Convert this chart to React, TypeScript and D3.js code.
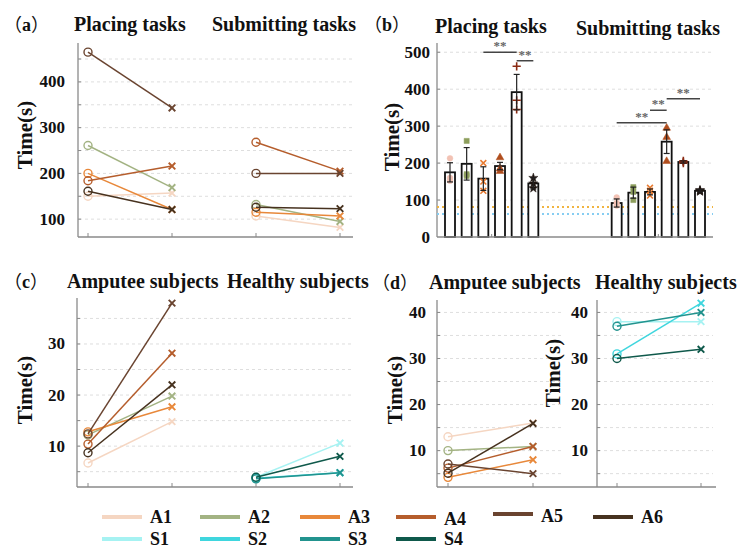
import React from 'react';
import * as d3 from 'd3';

// ---------- data ----------
const amputees = ['A1', 'A2', 'A3', 'A4', 'A5', 'A6'];
const healthy = ['S1', 'S2', 'S3', 'S4'];
const subjectColors = ['#f5d6c2', '#a3b383', '#e8883a', '#b55d2c', '#6a4430', '#47321f'];
const healthyColors = ['#a6f2f2', '#3fd6de', '#22938e', '#0f594b'];

// (a) task time per amputee subject, first and second session
const placingFirst = [150, 261, 200, 184, 465, 161];
const placingSecond = [157, 169, 121, 216, 343, 121];
const submittingFirst = [107, 132, 115, 268, 200, 126];
const submittingSecond = [82, 95, 107, 205, 200, 123];

// (b) bar means, sd and individual trials
const placingMean = [175, 198, 158, 192, 392, 145];
const placingSd = [26, 44, 32, 10, 48, 15];
const submittingMean = [92, 120, 122, 258, 203, 125];
const submittingSd = [11, 15, 8, 32, 3, 3];
const placingTrials = [[213, 160, 152], [260, 170, 165], [200, 150, 125], [215, 185, 178], [462, 370, 345], [160, 145, 132]];
const submittingTrials = [[107, 92, 85], [135, 122, 100], [133, 125, 112], [295, 270, 205], [206, 203, 200], [127, 125, 123]];
const refLineOrange = 81;
const refLineBlue = 62;
const placingSig = [[2, 4, 500], [4, 5, 477]];
const submittingSig = [[0, 3, 309], [2, 3, 343], [3, 5, 374]];
const markerColors = ['#f2c2b4', '#8d9e5c', '#e87a30', '#b04e1e', '#8a2a12', '#1e1410'];

// (c)
const ampC1 = [6.7, 12.2, 12.8, 10.4, 12.4, 8.7];
const ampC2 = [14.8, 19.8, 17.7, 28.2, 38, 22];
const hC1 = [3.9, 3.7, 3.6, 3.9];
const hC2 = [10.6, 4.8, 4.8, 8.0];

// (d)
const ampD1 = [13, 10, 4.2, 6.2, 7.1, 5.1];
const ampD2 = [16, 10.9, 8.0, 10.9, 5.0, 15.9];
const hD1 = [38, 31, 37, 30];
const hD2 = [38, 42, 40, 32];

const tickA = [100, 200, 300, 400];
const gridA = [100, 150, 200, 250, 300, 350, 400, 450];
const tickB = [0, 100, 200, 300, 400, 500];
const tickCD = [10, 20, 30];
const tickD = [10, 20, 30, 40];

// ---------- style ----------
const FONT = '"Liberation Serif","Times New Roman",serif';
const CJK = '"Noto Sans CJK SC",sans-serif';
const AX = '#8a8a8a';
const GRID = '#dedede';

function Title({ x, y, text, size = 20 }: any) {
  return <text x={x} y={y} fontFamily={FONT} fontWeight="bold" fontSize={size} fill="#111">{text}</text>;
}
function PanelTag({ x, y, letter }: any) {
  return (
    <text x={x} y={y} fontWeight="bold" fontSize={18} fill="#111">
      <tspan fontFamily={CJK} fontWeight="normal">（</tspan>
      <tspan fontFamily={FONT}>{letter}</tspan>
      <tspan fontFamily={CJK} fontWeight="normal">）</tspan>
    </text>
  );
}
function YLabel({ x, y }: any) {
  return (
    <text transform={`translate(${x},${y}) rotate(-90)`} textAnchor="middle" dominantBaseline="central"
      fontFamily={FONT} fontWeight="bold" fontSize={21} fill="#111">Time(s)</text>
  );
}
function YAxis({ scale, x, x2, grid, ticks, labelRight, top, bottom }: any) {
  return (
    <g>
      {grid.map((g: number) => (
        <line key={'g' + g} x1={x + 1} x2={x2} y1={scale(g)} y2={scale(g)} stroke={GRID} strokeWidth={1} strokeDasharray="3,3" />
      ))}
      {grid.map((g: number) => (
        <line key={'t' + g} x1={x} x2={x + 3} y1={scale(g)} y2={scale(g)} stroke={AX} strokeWidth={1} />
      ))}
      {ticks.map((t: number) => (
        <text key={'l' + t} x={labelRight} y={scale(t)} textAnchor="end" dominantBaseline="central"
          fontFamily={FONT} fontWeight="bold" fontSize={17} fill="#111">{t}</text>
      ))}
      <line x1={x} x2={x} y1={top} y2={bottom} stroke={AX} strokeWidth={1.3} />
    </g>
  );
}
function Pair({ x1, x2, y1, y2, color }: any) {
  const s = 3.3;
  return (
    <g>
      <line x1={x1} x2={x2} y1={y1} y2={y2} stroke={color} strokeWidth={1.5} />
      <circle cx={x1} cy={y1} r={4} fill="none" stroke={color} strokeWidth={1.4} />
      <path d={`M${x2 - s},${y2 - s}L${x2 + s},${y2 + s}M${x2 - s},${y2 + s}L${x2 + s},${y2 - s}`} stroke={color} strokeWidth={1.9} />
    </g>
  );
}

export default function App() {
  // (a)
  const xA = d3.scalePoint<string>().domain(['p0', 'p1', 's0', 's1']).range([88, 340]);
  const yA = d3.scaleLinear().domain([61, 485]).range([237, 43]);
  // (b)
  const xB = d3.scaleBand<number>().domain(d3.range(16)).range([445, 705]).paddingInner(0.4);
  const yB = d3.scaleLinear().domain([0, 525]).range([237, 43]);
  // (c)
  const xC = d3.scalePoint<string>().domain(['a0', 'a1', 'h0', 'h1']).range([88, 340]);
  const yC = d3.scaleLinear().domain([2, 39]).range([487, 298]);
  // (d)
  const xDa = d3.scalePoint<string>().domain(['a0', 'a1']).range([448, 533]);
  const xDh = d3.scalePoint<string>().domain(['h0', 'h1']).range([617, 701]);
  const yD = d3.scaleLinear().domain([2.1, 42.7]).range([487, 300]);

  const symbolTypes = [d3.symbolCircle, d3.symbolSquare, d3.symbolTimes, d3.symbolTriangle, d3.symbolPlus, d3.symbolStar];
  const stroked = [false, false, true, false, true, false];

  const bars = [
    ...placingMean.map((m, i) => ({ slot: i, mean: m, sd: placingSd[i], trials: placingTrials[i], k: i })),
    ...submittingMean.map((m, i) => ({ slot: i + 10, mean: m, sd: submittingSd[i], trials: submittingTrials[i], k: i })),
  ];
  const bw = xB.bandwidth();
  const cx = (slot: number) => (xB(slot) as number) + bw / 2;
  const sigs = [
    ...placingSig.map(([a, b, v]) => ({ a, b, v })),
    ...submittingSig.map(([a, b, v]) => ({ a: a + 10, b: b + 10, v })),
  ];

  const legendX = [102, 200, 300, 396, 493, 593];
  const legendTextDy = [0, 0, 0, 2, -1, 0];
  const legendTextDyS = [0, 0, 0, 0];

  return (
    <svg width={743} height={549} style={{ position: 'absolute', left: 0, top: 0, background: '#fff' }}>
      <rect width={743} height={549} fill="#fff" />
      {/* ---------- (a) ---------- */}
      <PanelTag x={4} y={31} letter="a" />
      <Title x={74} y={31} text="Placing tasks" />
      <Title x={212} y={31} text="Submitting tasks" />
      <YLabel x={25} y={135} />
      <YAxis scale={yA} x={78} x2={353} grid={gridA} ticks={tickA} labelRight={65} top={43} bottom={237} />
      <line x1={78} x2={353} y1={237} y2={237} stroke={AX} strokeWidth={1.3} />
      {xA.domain().map((d) => (
        <line key={d} x1={xA(d)} x2={xA(d)} y1={237} y2={233} stroke={AX} />
      ))}
      {amputees.map((a, i) => (
        <Pair key={'ap' + a} x1={xA('p0')} x2={xA('p1')} y1={yA(placingFirst[i])} y2={yA(placingSecond[i])} color={subjectColors[i]} />
      ))}
      {amputees.map((a, i) => (
        <Pair key={'as' + a} x1={xA('s0')} x2={xA('s1')} y1={yA(submittingFirst[i])} y2={yA(submittingSecond[i])} color={subjectColors[i]} />
      ))}

      {/* ---------- (b) ---------- */}
      <PanelTag x={364} y={31} letter="b" />
      <Title x={435} y={33} text="Placing tasks" />
      <Title x={576} y={35} text="Submitting tasks" />
      <YLabel x={392} y={137} />
      <YAxis scale={yB} x={437} x2={713} grid={[100, 200, 300, 400, 500]} ticks={tickB} labelRight={430} top={43} bottom={237} />
      <line x1={437} x2={713} y1={yB(refLineOrange)} y2={yB(refLineOrange)} stroke="#f0b440" strokeWidth={2} strokeDasharray="2,3" />
      <line x1={437} x2={713} y1={yB(refLineBlue)} y2={yB(refLineBlue)} stroke="#86cdf2" strokeWidth={2} strokeDasharray="2,3" />
      {bars.map((b) => (
        <g key={'bar' + b.slot}>
          <rect x={xB(b.slot)} y={yB(b.mean)} width={bw} height={yB(0) - yB(b.mean)} fill="#fff" stroke="#111" strokeWidth={1.8} />
          {b.trials.map((t, j) => {
            const path = d3.symbol().type(symbolTypes[b.k]).size(stroked[b.k] ? 24 : 26)() as string;
            return (
              <path key={j} d={path} transform={`translate(${cx(b.slot)},${yB(t)})`}
                fill={stroked[b.k] ? 'none' : markerColors[b.k]} stroke={markerColors[b.k]} strokeWidth={stroked[b.k] ? 1.6 : 0.5} />
            );
          })}
          <line x1={cx(b.slot)} x2={cx(b.slot)} y1={yB(b.mean - b.sd)} y2={yB(b.mean + b.sd)} stroke="#222" strokeWidth={1.2} />
          <line x1={cx(b.slot) - 3} x2={cx(b.slot) + 3} y1={yB(b.mean + b.sd)} y2={yB(b.mean + b.sd)} stroke="#222" strokeWidth={1.2} />
          <line x1={cx(b.slot) - 3} x2={cx(b.slot) + 3} y1={yB(b.mean - b.sd)} y2={yB(b.mean - b.sd)} stroke="#222" strokeWidth={1.2} />
        </g>
      ))}
      <line x1={437} x2={713} y1={237} y2={237} stroke={AX} strokeWidth={1.3} />
      {[2, 12].map((s) => (
        <line key={s} x1={(xB(s) as number) + bw + (xB.step() - bw) / 2} x2={(xB(s) as number) + bw + (xB.step() - bw) / 2} y1={237} y2={234} stroke={AX} />
      ))}
      {sigs.map((s, i) => (
        <g key={'sig' + i}>
          <line x1={cx(s.a)} x2={cx(s.b)} y1={yB(s.v)} y2={yB(s.v)} stroke="#444" strokeWidth={1.5} />
          <text x={(cx(s.a) + cx(s.b)) / 2} y={yB(s.v) - 2} textAnchor="middle" fontFamily={FONT} fontWeight="bold" fontSize={13} fill="#666">**</text>
        </g>
      ))}

      {/* ---------- (c) ---------- */}
      <PanelTag x={4} y={288} letter="c" />
      <Title x={67} y={288} text="Amputee subjects" />
      <Title x={227} y={288} text="Healthy subjects" />
      <YLabel x={25} y={390} />
      <YAxis scale={yC} x={77} x2={353} grid={[5, 10, 15, 20, 25, 30, 35]} ticks={tickCD} labelRight={65} top={298} bottom={487} />
      <line x1={77} x2={353} y1={487} y2={487} stroke={AX} strokeWidth={1.3} />
      {xC.domain().map((d) => (
        <line key={d} x1={xC(d)} x2={xC(d)} y1={487} y2={483} stroke={AX} />
      ))}
      {amputees.map((a, i) => (
        <Pair key={'ca' + a} x1={xC('a0')} x2={xC('a1')} y1={yC(ampC1[i])} y2={yC(ampC2[i])} color={subjectColors[i]} />
      ))}
      {healthy.map((h, i) => (
        <Pair key={'ch' + h} x1={xC('h0')} x2={xC('h1')} y1={yC(hC1[i])} y2={yC(hC2[i])} color={healthyColors[i]} />
      ))}

      {/* ---------- (d) ---------- */}
      <PanelTag x={372} y={289} letter="d" />
      <Title x={429} y={289} text="Amputee subjects" />
      <Title x={595} y={289} text="Healthy subjects" />
      <YLabel x={395} y={390} />
      <YAxis scale={yD} x={437} x2={562} grid={[5, 10, 15, 20, 25, 30, 35, 40]} ticks={tickD} labelRight={426} top={300} bottom={487} />
      <YLabel x={553} y={373} />
      <YAxis scale={yD} x={597} x2={713} grid={[5, 10, 15, 20, 25, 30, 35, 40]} ticks={tickD} labelRight={588} top={300} bottom={487} />
      <line x1={437} x2={716} y1={487} y2={487} stroke={AX} strokeWidth={1.3} />
      {[xDa('a0'), xDa('a1'), xDh('h0'), xDh('h1')].map((x, i) => (
        <line key={i} x1={x} x2={x} y1={487} y2={483} stroke={AX} />
      ))}
      {amputees.map((a, i) => (
        <Pair key={'da' + a} x1={xDa('a0')} x2={xDa('a1')} y1={yD(ampD1[i])} y2={yD(ampD2[i])} color={subjectColors[i]} />
      ))}
      {healthy.map((h, i) => (
        <Pair key={'dh' + h} x1={xDh('h0')} x2={xDh('h1')} y1={yD(hD1[i])} y2={yD(hD2[i])} color={healthyColors[i]} />
      ))}

      {/* ---------- legend ---------- */}
      {amputees.map((a, i) => (
        <g key={'lg' + a}>
          <line x1={legendX[i]} x2={legendX[i] + 40} y1={i === 4 ? 514 : 517} y2={i === 4 ? 514 : 517} stroke={subjectColors[i]} strokeWidth={4} />
          <text x={legendX[i] + 48} y={523 + legendTextDy[i]} fontFamily={FONT} fontWeight="bold" fontSize={18} fill="#111">{a}</text>
        </g>
      ))}
      {healthy.map((h, i) => (
        <g key={'lg' + h}>
          <line x1={legendX[i]} x2={legendX[i] + 40} y1={539} y2={539} stroke={healthyColors[i]} strokeWidth={4} />
          <text x={legendX[i] + 48} y={545 + legendTextDyS[i]} fontFamily={FONT} fontWeight="bold" fontSize={18} fill="#111">{h}</text>
        </g>
      ))}
    </svg>
  );
}
